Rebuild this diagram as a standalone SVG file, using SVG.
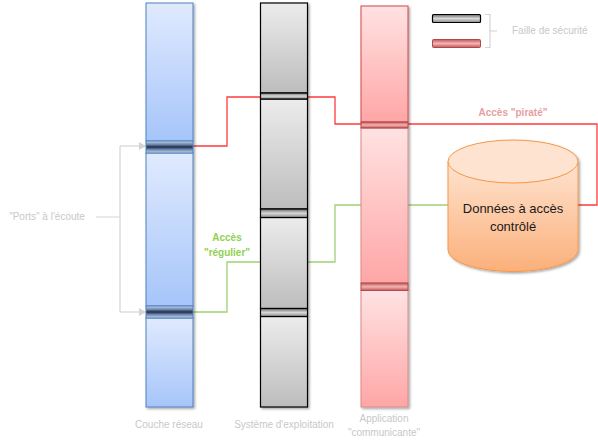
<svg xmlns="http://www.w3.org/2000/svg" width="598" height="446" viewBox="0 0 598 446">
<defs>
<linearGradient id="gBlue" x1="0" y1="0" x2="0" y2="1"><stop offset="0" stop-color="#e0eafe"/><stop offset="1" stop-color="#a6c5fa"/></linearGradient>
<linearGradient id="gGray" x1="0" y1="0" x2="0" y2="1"><stop offset="0" stop-color="#ececec"/><stop offset="1" stop-color="#bdbdbd"/></linearGradient>
<linearGradient id="gPink" x1="0" y1="0" x2="0" y2="1"><stop offset="0" stop-color="#ffe2e2"/><stop offset="1" stop-color="#ffa6a6"/></linearGradient>
<linearGradient id="pBlue" x1="0" y1="0" x2="0" y2="1"><stop offset="0" stop-color="#c8d6ec"/><stop offset="0.3" stop-color="#6d84a8"/><stop offset="0.5" stop-color="#1c2d4e"/><stop offset="0.7" stop-color="#6d84a8"/><stop offset="1" stop-color="#c8d6ec"/></linearGradient>
<linearGradient id="pGray" x1="0" y1="0" x2="0" y2="1"><stop offset="0" stop-color="#6a6a6a"/><stop offset="0.5" stop-color="#d8d8d8"/><stop offset="1" stop-color="#8a8a8a"/></linearGradient>
<linearGradient id="pPink" x1="0" y1="0" x2="0" y2="1"><stop offset="0" stop-color="#c45858"/><stop offset="0.5" stop-color="#f2b4b4"/><stop offset="1" stop-color="#c45858"/></linearGradient>
<linearGradient id="gOrange" x1="0" y1="0" x2="0" y2="1"><stop offset="0" stop-color="#fee3d0"/><stop offset="1" stop-color="#fbb07a"/></linearGradient>
<filter id="sh" x="-20%" y="-5%" width="140%" height="110%"><feDropShadow dx="1.5" dy="1.5" stdDeviation="1" flood-color="#000" flood-opacity="0.35"/></filter>
<marker id="arr" markerWidth="8" markerHeight="8" refX="6" refY="4" orient="auto" markerUnits="userSpaceOnUse"><path d="M0,0 L7,4 L0,8 z" fill="#d4d4d4"/></marker>
<style>
.lbl{font-family:"Liberation Sans",Arial,sans-serif;font-size:10px;fill:#c8c8c8}
.seg-b{fill:url(#gBlue);stroke:#4f81bd;stroke-width:1}
.seg-g{fill:url(#gGray);stroke:#000;stroke-width:1.2}
.seg-p{fill:url(#gPink);stroke:#cc5555;stroke-width:1}
.port-b{fill:url(#pBlue);stroke:#4f81bd;stroke-width:1}
.port-g{fill:url(#pGray);stroke:#000;stroke-width:1.2}
.port-p{fill:url(#pPink);stroke:#b04848;stroke-width:1}
.gr{fill:none;stroke:#d4d4d4;stroke-width:1.2}
</style>
</defs>
<rect width="598" height="446" fill="#fff"/>

<g id="connectors">
<path d="M193,146 H227 V97 H335 V124 H597 V205 H578" fill="none" stroke="#ff3b3b" stroke-width="1.3"/>
<path d="M193,312 H227 V262 H335 V205 H448" fill="none" stroke="#9ed272" stroke-width="1.3"/>
<path class="gr" d="M96,217 H120 M120,146 V312"/>
<path class="gr" d="M120,146 H145" marker-end="url(#arr)"/>
<path class="gr" d="M120,312 H145" marker-end="url(#arr)"/>
<path class="gr" d="M485,14.5 H490 V47.5 H485 M490,31 H497"/>
</g>

<g id="couche-reseau" filter="url(#sh)">
<rect class="seg-b" x="146" y="3" width="47" height="138"/>
<rect class="seg-b" x="146" y="153" width="47" height="153"/>
<rect class="seg-b" x="146" y="318" width="47" height="89"/>
<rect class="port-b" x="146" y="141" width="47" height="12"/>
<rect class="port-b" x="146" y="306" width="47" height="12"/>
</g>

<g id="systeme-exploitation" filter="url(#sh)">
<rect class="seg-g" x="260.5" y="3" width="47" height="90"/>
<rect class="seg-g" x="260.5" y="99" width="47" height="110"/>
<rect class="seg-g" x="260.5" y="217.5" width="47" height="91"/>
<rect class="seg-g" x="260.5" y="316.5" width="47" height="90.5"/>
<rect class="port-g" x="260.5" y="93" width="47" height="6"/>
<rect class="port-g" x="260.5" y="209" width="47" height="8.5"/>
<rect class="port-g" x="260.5" y="308.5" width="47" height="8"/>
</g>

<g id="application" filter="url(#sh)">
<rect class="seg-p" x="361" y="6" width="47" height="116" style="stroke:#d04848"/>
<rect class="seg-p" x="361" y="128" width="47" height="155" style="stroke:#d88a8a"/>
<rect class="seg-p" x="361" y="290.5" width="47" height="116.5" style="stroke:#d88a8a"/>
<rect class="port-p" x="361" y="122" width="47" height="6"/>
<rect class="port-p" x="361" y="283" width="47" height="7.5"/>
</g>

<g id="donnees" filter="url(#sh)">
<path d="M448,161.5 V250 A65,21.5 0 0 0 578,250 V161.5" fill="url(#gOrange)" stroke="#f79646" stroke-width="1"/>
<ellipse cx="513" cy="161.5" rx="65" ry="21.5" fill="#fee3d0" stroke="#f79646" stroke-width="1"/>
</g>
<text x="513" y="213" text-anchor="middle" font-family="'Liberation Sans',Arial,sans-serif" font-size="13" fill="#1a1a1a">Données à accès</text>
<text x="513" y="231" text-anchor="middle" font-family="'Liberation Sans',Arial,sans-serif" font-size="13" fill="#1a1a1a">contrôlé</text>

<g id="legende">
<rect x="432.5" y="14.5" width="48" height="8" rx="1" fill="url(#pGray)" stroke="#000" stroke-width="1.2"/>
<rect x="432.5" y="39.5" width="48" height="8" rx="1" fill="url(#pPink)" stroke="#b04848" stroke-width="1"/>
<text class="lbl" x="512" y="34">Faille de sécurité</text>
</g>

<text x="513" y="116" text-anchor="middle" font-family="'Liberation Sans',Arial,sans-serif" font-size="10" font-weight="bold" fill="#e6a0a0">Accès "piraté"</text>
<text x="227" y="241" text-anchor="middle" font-family="'Liberation Sans',Arial,sans-serif" font-size="10" font-weight="bold" fill="#92d050">Accès</text>
<text x="227" y="256" text-anchor="middle" font-family="'Liberation Sans',Arial,sans-serif" font-size="10" font-weight="bold" fill="#92d050">"régulier"</text>
<text class="lbl" x="47" y="220" text-anchor="middle">"Ports" à l'écoute</text>
<text class="lbl" x="169" y="428" text-anchor="middle">Couche réseau</text>
<text class="lbl" x="284" y="428" text-anchor="middle">Système d'exploitation</text>
<text class="lbl" x="384" y="422" text-anchor="middle">Application</text>
<text class="lbl" x="384" y="436" text-anchor="middle">"communicante"</text>
</svg>
